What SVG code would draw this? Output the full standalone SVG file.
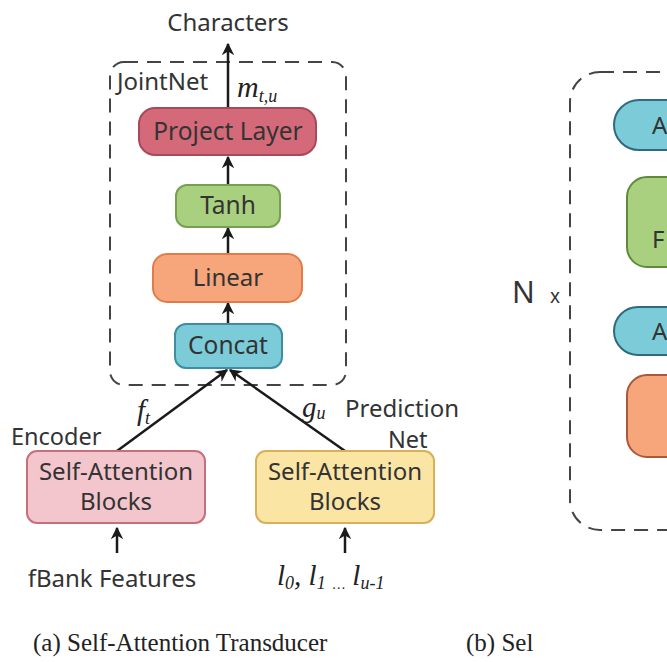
<svg xmlns="http://www.w3.org/2000/svg" width="667" height="662" viewBox="0 0 667 662">
  <defs>
    <marker id="arrow" viewBox="0 0 10 10" refX="9" refY="5" markerWidth="5" markerHeight="5" orient="auto" markerUnits="strokeWidth">
      <path d="M0,0 L10,5 L0,10 L3,5 z" fill="#1a1a1a"/>
    </marker>
    <style>
      .lbl { font-family: "Noto Sans", "Open Sans", sans-serif; fill: #333; }
      .math { font-family: "Liberation Serif", "DejaVu Serif", serif; font-style: italic; fill: #222; }
      .cap { font-family: "Liberation Serif", "DejaVu Serif", serif; fill: #222; }
      .edge { stroke: #1a1a1a; stroke-width: 2.5; fill: none; marker-end: url(#arrow); }
      .dash { fill: none; stroke: #444; stroke-width: 2; stroke-dasharray: 14 9; }
      .node-text { font-family: "Noto Sans", "Open Sans", sans-serif; fill: #333; text-anchor: middle; }
    </style>
  </defs>
  <rect width="667" height="662" fill="#ffffff"/>

  <!-- JointNet frame -->
  <rect x="110" y="62" width="236" height="323" rx="14" class="dash"/>
  <text x="117" y="90" class="lbl" font-size="24">JointNet</text>
  <text x="228" y="31" class="lbl" font-size="24" text-anchor="middle">Characters</text>
  <text x="237" y="97" class="math" font-size="30">m<tspan font-size="18" dy="5">t,u</tspan></text>

  <!-- connectors -->
  <g id="connectors">
    <line x1="228" y1="108" x2="228" y2="44" class="edge"/>
    <line x1="228" y1="185" x2="228" y2="157" class="edge"/>
    <line x1="228" y1="254" x2="228" y2="228" class="edge"/>
    <line x1="228" y1="324" x2="228" y2="303" class="edge"/>
    <line x1="117" y1="451" x2="227" y2="370" class="edge"/>
    <line x1="345" y1="451" x2="230" y2="370" class="edge"/>
    <line x1="117" y1="553" x2="117" y2="528" class="edge"/>
    <line x1="345" y1="553" x2="345" y2="528" class="edge"/>
  </g>

  <g id="project-layer">
    <rect x="139" y="108" width="177" height="47" rx="16" fill="#d46a79" stroke="#a9485a" stroke-width="2"/>
    <text x="228" y="140" class="node-text" font-size="24.5">Project Layer</text>
  </g>
  <g id="tanh">
    <rect x="176" y="185" width="104" height="42" rx="11" fill="#a9d07f" stroke="#76a050" stroke-width="2"/>
    <text x="228" y="214" class="node-text" font-size="24.5">Tanh</text>
  </g>
  <g id="linear">
    <rect x="153" y="254" width="149" height="48" rx="14" fill="#f7a57b" stroke="#e37b48" stroke-width="2"/>
    <text x="228" y="286" class="node-text" font-size="24">Linear</text>
  </g>
  <g id="concat">
    <rect x="175" y="324" width="107" height="44" rx="11" fill="#7ccbd8" stroke="#3e8da3" stroke-width="2"/>
    <text x="228" y="354" class="node-text" font-size="24.5">Concat</text>
  </g>

  <text x="137" y="420" class="math" font-size="29">f<tspan font-size="18" dy="4">t</tspan></text>
  <text x="302" y="417" class="math" font-size="29">g<tspan font-size="18" dy="2">u</tspan></text>
  <text x="11" y="445" class="lbl" font-size="23.5">Encoder</text>
  <text x="345" y="417" class="lbl" font-size="24">Prediction</text>
  <text x="388" y="448" class="lbl" font-size="23.5">Net</text>

  <g id="encoder">
    <rect x="27" y="451" width="178" height="72" rx="10" fill="#f3c6cd" stroke="#c66f7d" stroke-width="2"/>
    <text x="116" y="480" class="node-text" font-size="24">Self-Attention</text>
    <text x="116" y="510" class="node-text" font-size="24">Blocks</text>
  </g>
  <g id="prediction-net">
    <rect x="256" y="451" width="178" height="72" rx="10" fill="#fbe5a5" stroke="#d6b157" stroke-width="2"/>
    <text x="345" y="480" class="node-text" font-size="24">Self-Attention</text>
    <text x="345" y="510" class="node-text" font-size="24">Blocks</text>
  </g>

  <text x="112" y="587" class="lbl" font-size="24" text-anchor="middle">fBank Features</text>
  <text x="277" y="585" class="math" font-size="29">l<tspan font-size="18" dy="4">0</tspan><tspan dy="-4">, l</tspan><tspan font-size="18" dy="4">1</tspan><tspan font-size="14" dx="7">…</tspan><tspan dy="-4"> l</tspan><tspan font-size="18" dy="4">u-1</tspan></text>

  <text x="33" y="651" class="cap" font-size="25">(a)  Self-Attention Transducer</text>

  <!-- block stack, right panel -->
  <rect x="570" y="72" width="160" height="458" rx="30" class="dash"/>
  <text x="512" y="303" class="lbl" font-size="30">N</text>
  <text x="550" y="303" class="lbl" font-size="19">x</text>
  <g id="add-1">
    <rect x="614" y="100" width="120" height="50" rx="25" fill="#7ccbd8" stroke="#2f6a80" stroke-width="2"/>
    <text x="652" y="134" class="lbl" font-size="24">A</text>
  </g>
  <g id="ffn">
    <rect x="627" y="177" width="100" height="90" rx="20" fill="#a9d07f" stroke="#5f8a3b" stroke-width="2"/>
    <text x="652" y="248" class="lbl" font-size="24">F</text>
  </g>
  <g id="add-2">
    <rect x="614" y="307" width="120" height="48" rx="24" fill="#7ccbd8" stroke="#2f6a80" stroke-width="2"/>
    <text x="652" y="340" class="lbl" font-size="24">A</text>
  </g>
  <g id="attention">
    <rect x="627" y="375" width="100" height="82" rx="20" fill="#f7a57b" stroke="#a9583a" stroke-width="2"/>
  </g>

  <text x="466" y="651" class="cap" font-size="25">(b) Sel</text>
</svg>
